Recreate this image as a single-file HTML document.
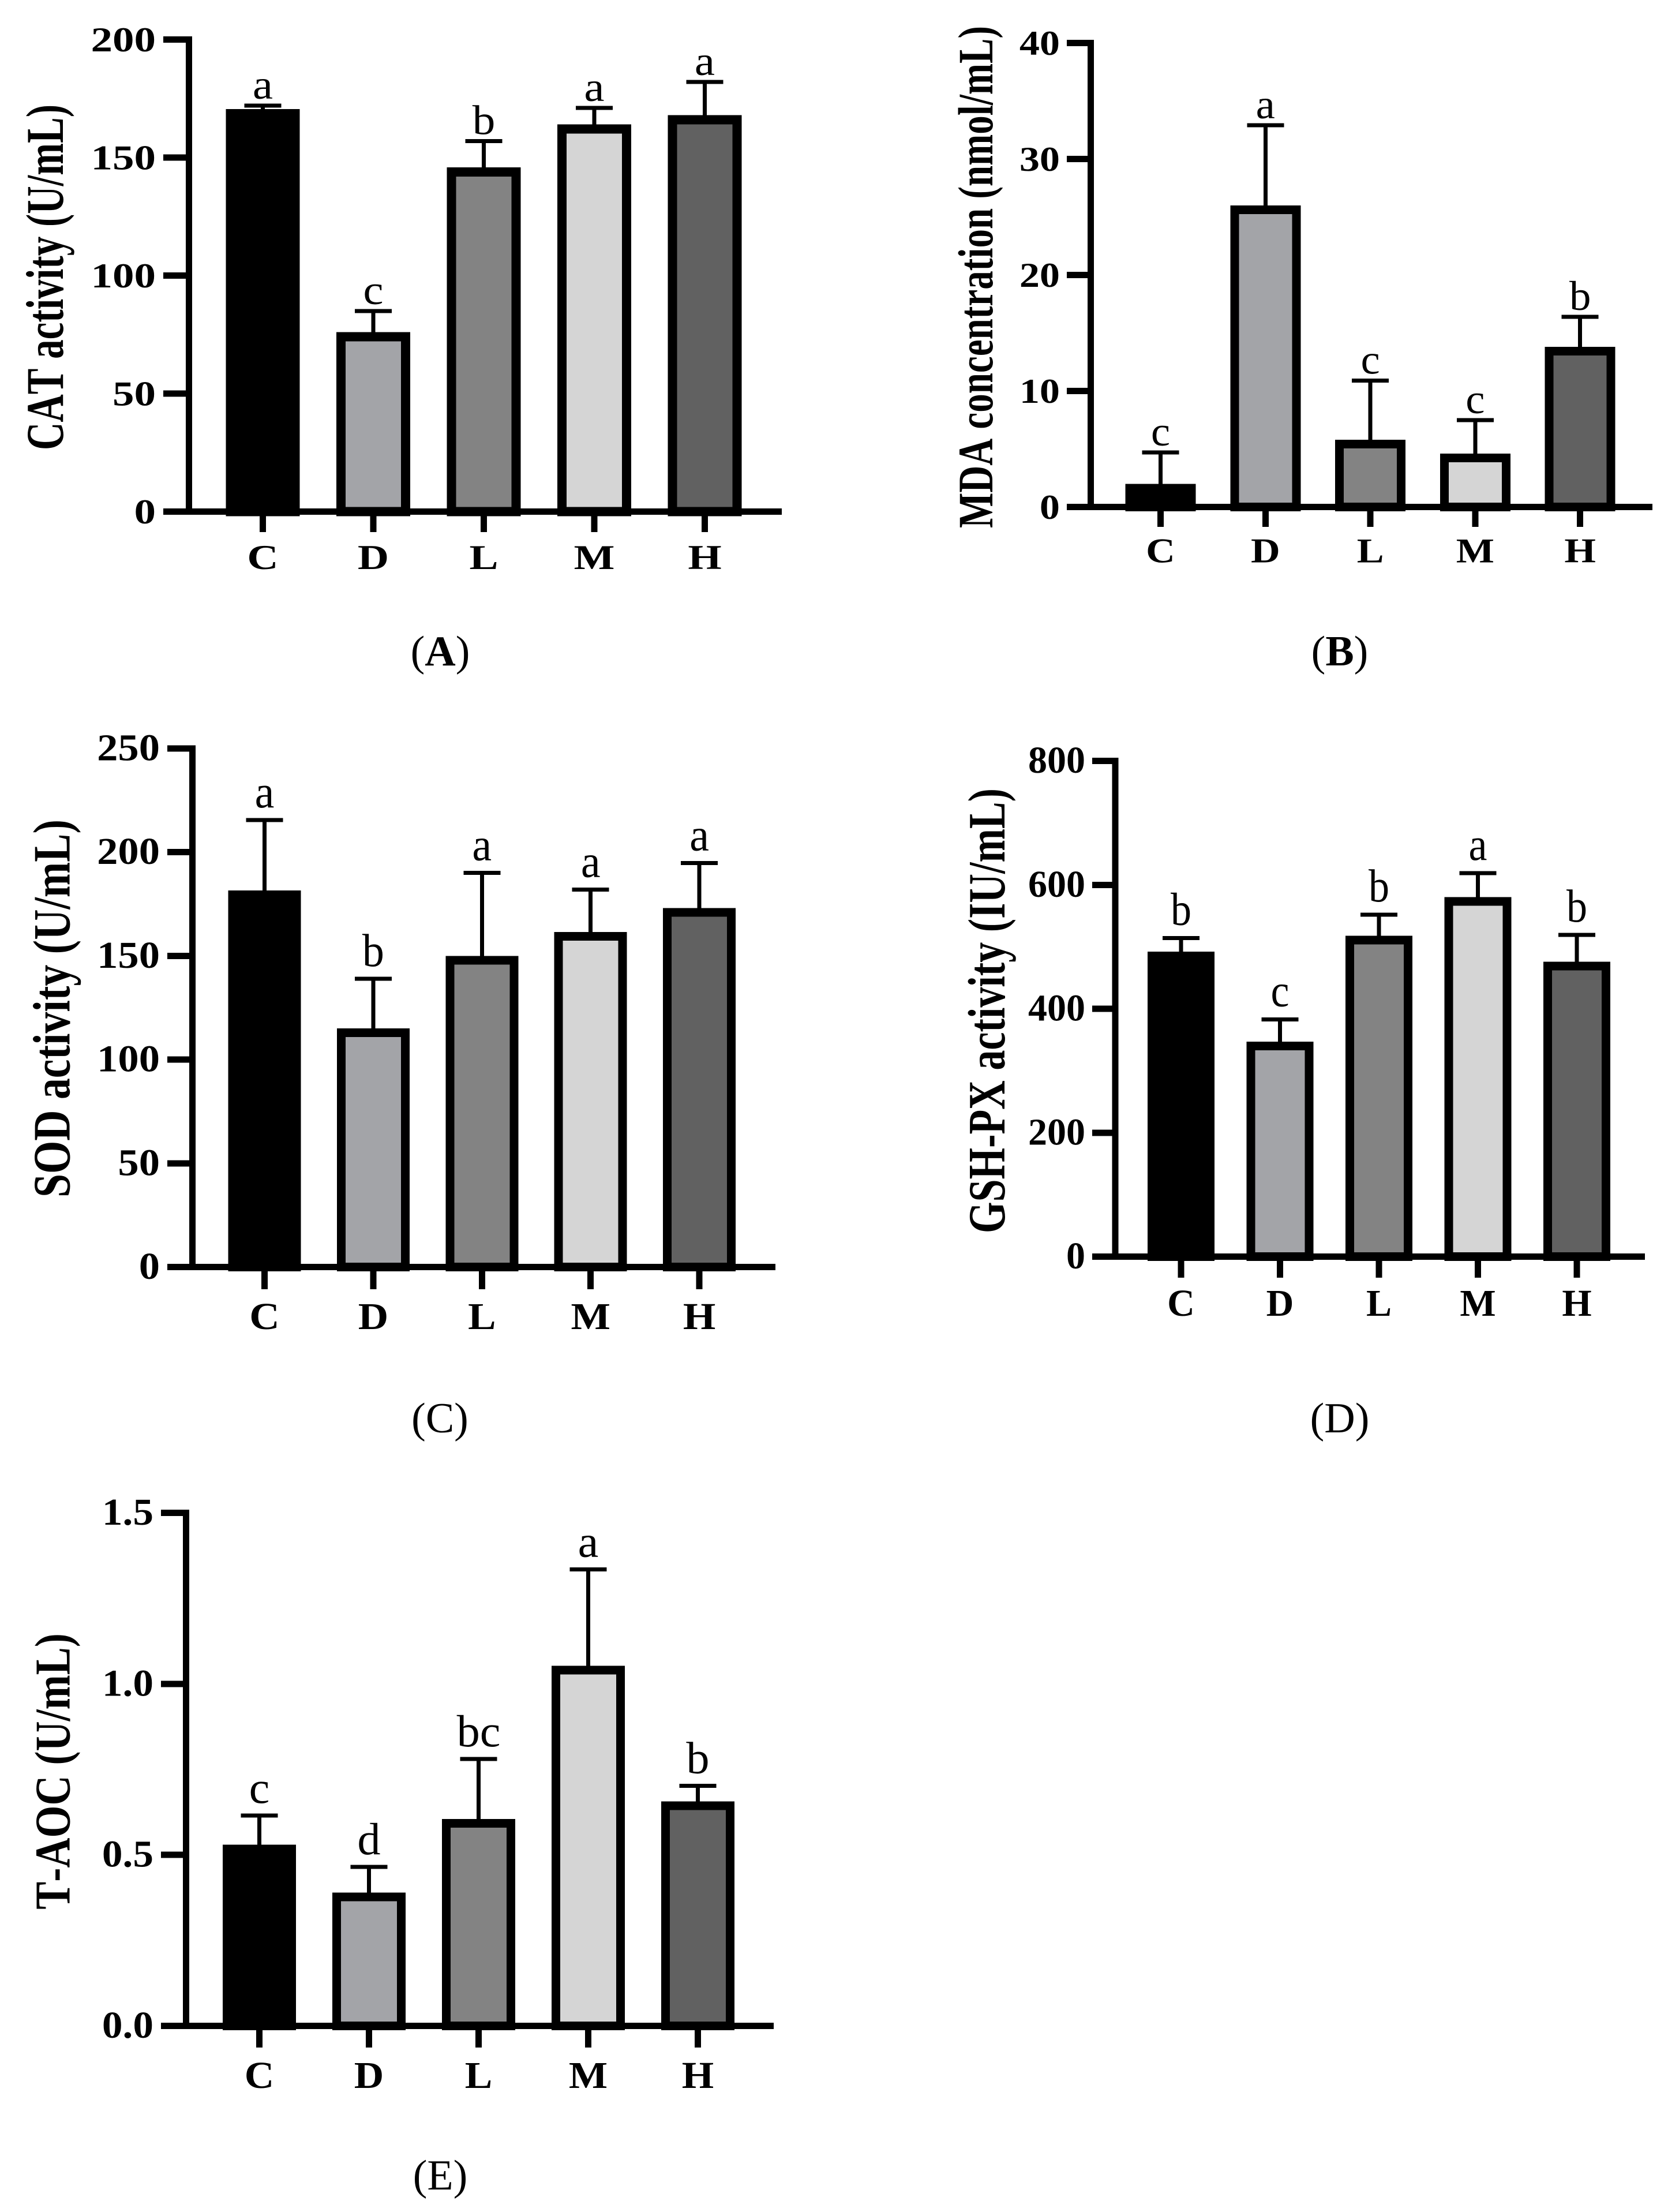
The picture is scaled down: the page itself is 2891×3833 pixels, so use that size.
<!DOCTYPE html>
<html>
<head>
<meta charset="utf-8">
<title>Antioxidant indices bar charts</title>
<style>
html,body{margin:0;padding:0;background:#fff;}
svg{display:block;}
text{font-family:"Liberation Serif","Times New Roman",serif;fill:#000;font-kerning:none;}
</style>
</head>
<body>
<svg id="figure" xmlns="http://www.w3.org/2000/svg" width="2891" height="3833" viewBox="0 0 2891 3833" shape-rendering="crispEdges"></svg>
<script>
const categories = ['C', 'D', 'L', 'M', 'H'];
const barColors = ['#000000', '#a3a4a8', '#838383', '#d5d5d5', '#616161'];

const catValues = [170.5, 76, 145.8, 164, 168];
const catErrors = [172, 85, 157, 171, 182];
const catLetters = ['a', 'c', 'b', 'a', 'a'];
const catTicks = [0, 50, 100, 150, 200];
const catTickLabels = ['0', '50', '100', '150', '200'];

const mdaValues = [2, 26, 5.8, 4.6, 13.8];
const mdaErrors = [4.7, 32.9, 10.9, 7.5, 16.4];
const mdaLetters = ['c', 'a', 'c', 'c', 'b'];
const mdaTicks = [0, 10, 20, 30, 40];
const mdaTickLabels = ['0', '10', '20', '30', '40'];

const sodValues = [181.5, 115, 150, 161.5, 173];
const sodErrors = [215.5, 139, 190, 182, 194.7];
const sodLetters = ['a', 'b', 'a', 'a', 'a'];
const sodTicks = [0, 50, 100, 150, 200, 250];
const sodTickLabels = ['0', '50', '100', '150', '200', '250'];

const gshValues = [492, 347, 518, 580, 476];
const gshErrors = [514, 383, 552, 619, 519];
const gshLetters = ['b', 'c', 'b', 'a', 'b'];
const gshTicks = [0, 200, 400, 600, 800];
const gshTickLabels = ['0', '200', '400', '600', '800'];

const aocValues = [0.53, 0.39, 0.605, 1.053, 0.656];
const aocErrors = [0.615, 0.465, 0.78, 1.335, 0.702];
const aocLetters = ['c', 'd', 'bc', 'a', 'b'];
const aocTicks = [0, 0.5, 1, 1.5];
const aocTickLabels = ['0.0', '0.5', '1.0', '1.5'];

const panels = [
  {id:'a', title:'CAT activity (U/mL)', label:'A', labelBold:true, values:catValues, errors:catErrors, letters:catLetters, ticks:catTicks, tickLabels:catTickLabels,
   axisX:327.5, tickLeft:283, xEnd:1355, yTop:68.5, yBottom:886.5, first:455.5, step:191.5, barW:128, border:16, tickBottom:922, catBase:986,
   tickEm:60, tickSx:1.25, tickGap:13, letterEm:72, letterSx:1.1, letterGap:12, titleEm:67, titleSx:1.37, titleX:109, titleY:480.5, labelX:763, labelY:1153},
  {id:'b', title:'MDA concentration (nmol/mL)', label:'B', labelBold:true, values:mdaValues, errors:mdaErrors, letters:mdaLetters, ticks:mdaTicks, tickLabels:mdaTickLabels,
   axisX:1890.5, tickLeft:1849, xEnd:2864, yTop:74.5, yBottom:878.5, first:2011.5, step:181.8, barW:122, border:15, tickBottom:913, catBase:974.5,
   tickEm:60, tickSx:1.17, tickGap:12, letterEm:72, letterSx:1.04, letterGap:12, titleEm:65, titleSx:1.32, titleX:1720, titleY:480, labelX:2322, labelY:1153},
  {id:'c', title:'SOD activity (U/mL)', label:'C', labelBold:false, values:sodValues, errors:sodErrors, letters:sodLetters, ticks:sodTicks, tickLabels:sodTickLabels,
   axisX:333.5, tickLeft:290, xEnd:1344, yTop:1297, yBottom:2195.5, first:458.5, step:188.4, barW:126, border:15, tickBottom:2234, catBase:2303,
   tickEm:66, tickSx:1.1, tickGap:13, letterEm:80, letterSx:0.95, letterGap:22, titleEm:73.7, titleSx:1.23, titleX:120.5, titleY:1747.5, labelX:762.5, labelY:2482},
  {id:'d', title:'GSH-PX activity (IU/mL)', label:'D', labelBold:false, values:gshValues, errors:gshErrors, letters:gshLetters, ticks:gshTicks, tickLabels:gshTickLabels,
   axisX:1933, tickLeft:1893, xEnd:2851, yTop:1318.5, yBottom:2177.5, first:2047, step:171.5, barW:116, border:15, tickBottom:2214, catBase:2280,
   tickEm:66, tickSx:1.0, tickGap:12, letterEm:80, letterSx:0.9, letterGap:23, titleEm:70.1, titleSx:1.295, titleX:1741, titleY:1751.5, labelX:2322, labelY:2482},
  {id:'e', title:'T-AOC (U/mL)', label:'E', labelBold:false, values:aocValues, errors:aocErrors, letters:aocLetters, ticks:aocTicks, tickLabels:aocTickLabels,
   axisX:322.5, tickLeft:279, xEnd:1341, yTop:2621.5, yBottom:3510.5, first:449.5, step:190, barW:127, border:15, tickBottom:3548, catBase:3618,
   tickEm:66, tickSx:1.08, tickGap:13, letterEm:78, letterSx:1.03, letterGap:22, titleEm:72.1, titleSx:1.2, titleX:120.5, titleY:3069.5, labelX:763, labelY:3794}
];

const NS = 'http://www.w3.org/2000/svg';
const root = document.getElementById('figure');

function make(tag, parent, attrs) {
  const el = document.createElementNS(NS, tag);
  for (const k in attrs) el.setAttribute(k, attrs[k]);
  parent.appendChild(el);
  return el;
}

function line(parent, name, x1, y1, x2, y2, w) {
  const el = make('line', parent, {x1: x1, y1: y1, x2: x2, y2: y2, stroke: '#000', 'stroke-width': w});
  
  
  return el;
}

function label(parent, name, str, x, y, em, sx, opts) {
  const o = opts || {};
  const el = make('text', parent, {
    transform: 'translate(' + x + ',' + y + ') scale(' + sx + ',1)' + (o.rotate ? ' rotate(-90)' : ''),
    'font-size': em,
    'text-anchor': o.anchor || 'middle',
    'font-weight': o.bold ? 'bold' : 'normal',
    'shape-rendering': 'auto'
  });
  el.textContent = str;
  
  
  return el;
}

function drawPanel(p) {
  const g = make('g', root, {});
  
  

  const maxTick = p.ticks[p.ticks.length - 1];
  const yScale = function (v) { return p.yBottom - (v / maxTick) * (p.yBottom - p.yTop); };
  const xScale = function (i) { return p.first + i * p.step; };
  const thick = 11;
  const border = p.border;

  p.values.forEach(function (v, i) {
    const cx = xScale(i);
    const top = yScale(v);
    const errY = yScale(p.errors[i]);
    line(g, 'error-stem-' + categories[i].toLowerCase(), cx, errY, cx, top, 7);
    line(g, 'error-cap-' + categories[i].toLowerCase(), cx - 32, errY, cx + 32, errY, 7);

    const bar = make('rect', g, {
      x: cx - p.barW / 2 + border / 2,
      y: top + border / 2,
      width: p.barW - border,
      height: Math.max(0, p.yBottom - top - border / 2),
      fill: barColors[i],
      stroke: '#000',
      'stroke-width': border
    });
    
    

    label(g, 'significance-letter-' + categories[i].toLowerCase(), p.letters[i], cx, errY - p.letterGap, p.letterEm, p.letterSx);
    line(g, 'x-tick-' + categories[i].toLowerCase(), cx, p.yBottom, cx, p.tickBottom, thick);
    label(g, 'x-label-' + categories[i].toLowerCase(), categories[i], cx, p.catBase, p.tickEm, p.tickSx, {bold: true});
  });

  line(g, 'y-axis', p.axisX, p.yTop - thick / 2, p.axisX, p.yBottom + thick / 2, thick);
  line(g, 'x-axis', p.tickLeft, p.yBottom, p.xEnd, p.yBottom, thick);

  p.ticks.forEach(function (t, i) {
    const y = yScale(t);
    line(g, 'y-tick-' + p.tickLabels[i], p.tickLeft, y, p.axisX, y, thick);
    label(g, 'y-tick-label-' + p.tickLabels[i], p.tickLabels[i], p.tickLeft - p.tickGap, y + 20.5, p.tickEm, p.tickSx, {anchor: 'end', bold: true});
  });

  label(g, 'y-axis-title', p.title, p.titleX, p.titleY, p.titleEm, p.titleSx, {rotate: true, bold: true});

  const cap = make('text', g, {
    x: p.labelX,
    y: p.labelY,
    'font-size': 74,
    'text-anchor': 'middle',
    'shape-rendering': 'auto'
  });
  
  
  const open = make('tspan', cap, {});
  open.textContent = '(';
  const mid = make('tspan', cap, {'font-weight': p.labelBold ? 'bold' : 'normal'});
  mid.textContent = p.label;
  const close = make('tspan', cap, {});
  close.textContent = ')';
}

panels.forEach(drawPanel);
</script>
</body>
</html>
